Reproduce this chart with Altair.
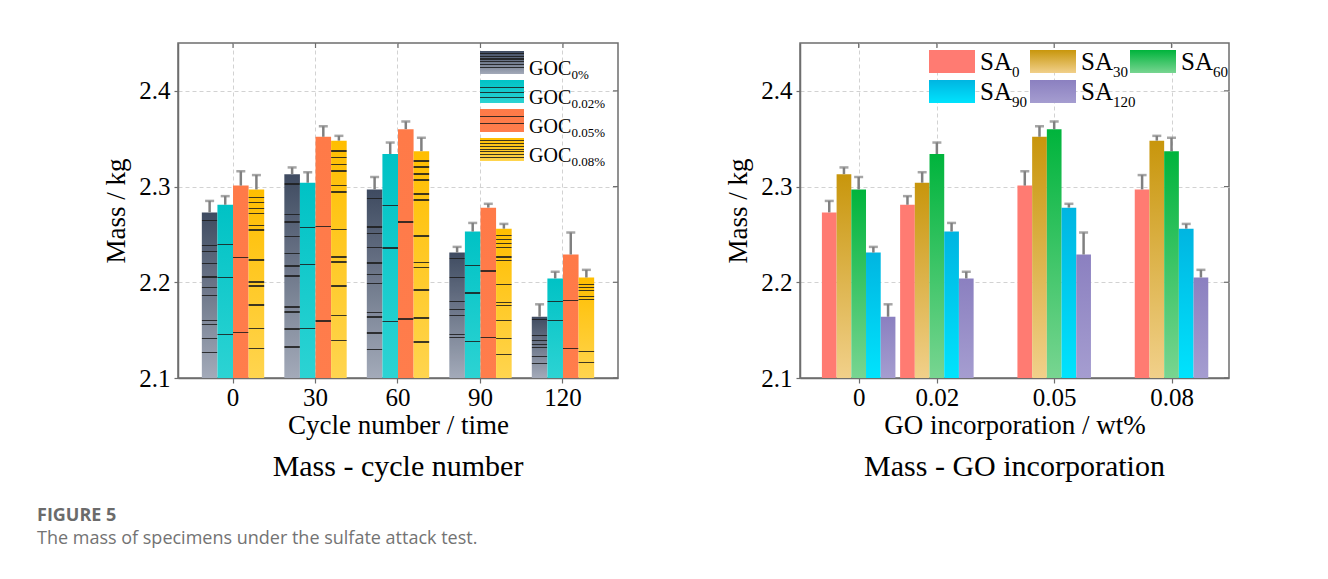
import altair as alt
import pandas as pd

# ---------------- data ----------------
cycles = ["0", "30", "60", "90", "120"]
goc_names = ["GOC0%", "GOC0.02%", "GOC0.05%", "GOC0.08%"]
goc_subs = ["0%", "0.02%", "0.05%", "0.08%"]
go_levels = [0.0, 0.02, 0.05, 0.08]
sa_names = ["SA0", "SA30", "SA60", "SA90", "SA120"]
sa_subs = ["0", "30", "60", "90", "120"]

# mass (kg) for each GO content, across cycle numbers 0,30,60,90,120
mass_goc0 = [2.273, 2.313, 2.297, 2.231, 2.164]
mass_goc002 = [2.281, 2.304, 2.334, 2.253, 2.204]
mass_goc005 = [2.301, 2.352, 2.360, 2.278, 2.229]
mass_goc008 = [2.297, 2.348, 2.337, 2.256, 2.205]
# upper error (kg)
err_goc0 = [0.012, 0.007, 0.013, 0.006, 0.013]
err_goc002 = [0.009, 0.011, 0.012, 0.009, 0.007]
err_goc005 = [0.015, 0.011, 0.008, 0.004, 0.023]
err_goc008 = [0.015, 0.005, 0.014, 0.005, 0.008]

y_ticks = [2.1, 2.2, 2.3, 2.4]

# ---------------- style ----------------
SERIF = "Liberation Serif"
FRAME = "#6e6e6e"
ERR = "#808080"
goc_grad = [("#3f4b61", "#a3aab9"), ("#00c2c5", "#2cd3d3"),
            ("#ff7a48", "#ff7d4c"), ("#ffbe00", "#ffd54f")]
# decorative hatch-line positions (fraction of bar height, from top)
goc_hatch = [
    [0.044, 0.195, 0.231, 0.303, 0.387, 0.448, 0.496, 0.649, 0.673, 0.757, 0.845],
    [0.227, 0.416, 0.744],
    [0.369, 0.760],
    [0.041, 0.067, 0.097, 0.124, 0.186, 0.212, 0.371, 0.488, 0.509, 0.609, 0.733, 0.839],
]
legend_hatch = [
    [0.08, 0.2, 0.32, 0.44, 0.56, 0.68],
    [0.3, 0.5, 0.72],
    [0.3, 0.62],
    [0.1, 0.22, 0.34, 0.46, 0.58, 0.7, 0.82],
]
sa_grad = [("#ff7b72", "#ff7b72"), ("#c8960c", "#f1d08a"),
           ("#00b43c", "#78d591"), ("#00b5e1", "#00e3fd"),
           ("#8b80c0", "#a59dd0")]
BW = 0.00376  # bar width on GO axis (wt%)

masses = [mass_goc0, mass_goc002, mass_goc005, mass_goc008]
errs = [err_goc0, err_goc002, err_goc005, err_goc008]

rows = []
for i, g in enumerate(goc_names):
    for k, c in enumerate(cycles):
        m = masses[i][k]
        e = errs[i][k]
        go = go_levels[i]
        rows.append(dict(goc=g, cycle=c, sa=sa_names[k], go=go, mass=m, top=m + e,
                         x0=go + (k - 2.5) * BW, x1=go + (k - 1.5) * BW,
                         xc=go + (k - 2) * BW))
df = pd.DataFrame(rows)
ytick_df = pd.DataFrame({"mass": y_ticks})
xtick_l = pd.DataFrame({"cycle": cycles})
xtick_r = pd.DataFrame({"x0": go_levels})


def _hex(c):
    return tuple(int(c[j:j + 2], 16) for j in (1, 3, 5))


def _mix(a, b, t):
    ca, cb = _hex(a), _hex(b)
    return "#%02x%02x%02x" % tuple(round(ca[j] + (cb[j] - ca[j]) * t) for j in range(3))


def vgrad(top, bottom, hatch=None, lw=0.007, dark="#1c1c1c"):
    stops = [alt.GradientStop(color=top, offset=0)]
    for f in (hatch or []):
        c0 = _mix(top, bottom, f)
        c1 = _mix(top, bottom, f + lw)
        d = _mix(c0, dark, 0.85)
        stops += [alt.GradientStop(color=c0, offset=f), alt.GradientStop(color=d, offset=f),
                  alt.GradientStop(color=d, offset=f + lw), alt.GradientStop(color=c1, offset=f + lw)]
    stops.append(alt.GradientStop(color=bottom, offset=1))
    return alt.Gradient(gradient="linear", stops=stops, x1=0, x2=0, y1=0, y2=1)


Y = alt.Y("mass:Q", scale=alt.Scale(domain=[2.1, 2.45], nice=False, zero=False),
          axis=alt.Axis(values=y_ticks, format=".1f", title="Mass / kg",
                        tickSize=4, labelPadding=4, titlePadding=8, grid=True))
Y2 = alt.Y2(datum=2.1)


def mirror_ticks(xenc, xdf, width):
    right_t = alt.Chart(ytick_df).mark_rule(color=FRAME, strokeWidth=1.2).encode(
        y=Y, x=alt.value(width - 5), x2=alt.value(width))
    top_t = alt.Chart(xdf).mark_rule(color=FRAME, strokeWidth=1.2).encode(
        x=xenc, y=alt.value(0), y2=alt.value(5))
    return [right_t, top_t]


# ---------------- left panel ----------------
XL = alt.X("cycle:N", sort=cycles,
           scale=alt.Scale(domain=cycles, paddingInner=0.244, paddingOuter=0.289),
           axis=alt.Axis(labelAngle=0, title="Cycle number / time", tickSize=5,
                         labelPadding=2, titlePadding=2, grid=True))
XO = alt.XOffset("goc:N", scale=alt.Scale(domain=goc_names, paddingInner=0, paddingOuter=0))

left_layers = []
for i, g in enumerate(goc_names):
    sub = df[df.goc == g]
    left_layers.append(alt.Chart(sub).mark_bar(fill=vgrad(*goc_grad[i], hatch=goc_hatch[i]), stroke=None)
                       .encode(x=XL, xOffset=XO, y=Y, y2=Y2))
left_layers.append(alt.Chart(df).mark_rule(color=ERR, strokeWidth=2.5)
                   .encode(x=XL, xOffset=XO, y="mass:Q", y2="top:Q"))
left_layers.append(alt.Chart(df).mark_tick(color=ERR, orient="horizontal", size=9, thickness=2.5)
                   .encode(x=XL, xOffset=XO, y="top:Q"))
left_layers += mirror_ticks(XL, xtick_l, 440)
one = pd.DataFrame({"a": [0]})
for i, g in enumerate(goc_names):
    y0 = 8 + 29 * i
    left_layers.append(alt.Chart(one).mark_rect(fill=vgrad(*goc_grad[i], hatch=legend_hatch[i], lw=0.05))
                       .encode(x=alt.value(302), x2=alt.value(346),
                               y=alt.value(y0), y2=alt.value(y0 + 23)))
    left_layers.append(alt.Chart(one).mark_text(text="GOC", font=SERIF, fontSize=20,
                                                align="left", baseline="alphabetic")
                       .encode(x=alt.value(351), y=alt.value(y0 + 24)))
    left_layers.append(alt.Chart(one).mark_text(text=goc_subs[i], font=SERIF, fontSize=13,
                                                align="left", baseline="alphabetic")
                       .encode(x=alt.value(393.5), y=alt.value(y0 + 28)))

left = alt.layer(*left_layers).properties(
    width=440, height=335,
    title=alt.TitleParams("Mass - cycle number", orient="bottom", fontSize=30, font=SERIF,
                          fontWeight="normal", offset=14))

# ---------------- right panel ----------------
XR = alt.X("x0:Q", scale=alt.Scale(domain=[-0.015, 0.0947], nice=False, zero=False),
           axis=alt.Axis(values=go_levels, title="GO incorporation / wt%", tickSize=5,
                         labelExpr="datum.value == 0 ? '0' : format(datum.value, '.2f')",
                         labelPadding=2, titlePadding=2, grid=True))
right_layers = []
for k, s in enumerate(sa_names):
    sub = df[df.sa == s]
    right_layers.append(alt.Chart(sub).mark_bar(fill=vgrad(*sa_grad[k]), stroke=None)
                        .encode(x=XR, x2="x1:Q", y=Y, y2=Y2))
right_layers.append(alt.Chart(df).mark_rule(color=ERR, strokeWidth=2.5)
                    .encode(x="xc:Q", y="mass:Q", y2="top:Q"))
right_layers.append(alt.Chart(df).mark_tick(color=ERR, orient="horizontal", size=9, thickness=2.5)
                    .encode(x="xc:Q", y="top:Q"))
right_layers += mirror_ticks(XR, xtick_r, 429)
for k, s in enumerate(sa_names):
    col, row = k % 3, k // 3
    x0 = [129, 230, 330][col]
    y0 = 7 + 30 * row
    right_layers.append(alt.Chart(one).mark_rect(fill=vgrad(*sa_grad[k]))
                        .encode(x=alt.value(x0), x2=alt.value(x0 + 46),
                                y=alt.value(y0), y2=alt.value(y0 + 23)))
    right_layers.append(alt.Chart(one).mark_text(text="SA", font=SERIF, fontSize=25,
                                                 align="left", baseline="alphabetic")
                        .encode(x=alt.value(x0 + 51), y=alt.value(y0 + 20)))
    right_layers.append(alt.Chart(one).mark_text(text=sa_subs[k], font=SERIF, fontSize=15,
                                                 align="left", baseline="alphabetic")
                        .encode(x=alt.value(x0 + 83), y=alt.value(y0 + 27)))

right = alt.layer(*right_layers).properties(
    width=429, height=335,
    title=alt.TitleParams("Mass - GO incorporation", orient="bottom", fontSize=30, font=SERIF,
                          fontWeight="normal", offset=14))

chart = alt.hconcat(left, right, spacing=104).properties(
    padding={"left": 29, "top": 33, "right": 5, "bottom": 5},
    title=alt.TitleParams("FIGURE 5", subtitle="The mass of specimens under the sulfate attack test.",
                          orient="bottom", anchor="start", dx=-65, offset=24,
                          font="Open Sans", fontSize=18, fontWeight="bold", color="#6b6b6b",
                          subtitleFont="Open Sans", subtitleFontSize=18, subtitleColor="#737373",
                          subtitleFontWeight="normal", subtitlePadding=5)
).configure_view(stroke=FRAME, strokeWidth=1.5).configure_axis(
    labelFont=SERIF, titleFont=SERIF, labelFontSize=25, titleFontSize=27,
    titleFontWeight="normal", labelColor="black", titleColor="black",
    domainColor=FRAME, tickColor=FRAME, gridColor="#d2d2d2", gridDash=[4, 3],
    domainWidth=1.5, tickWidth=1.2
)

chart.save("out.html", embed_options={"renderer": "svg", "actions": False})
